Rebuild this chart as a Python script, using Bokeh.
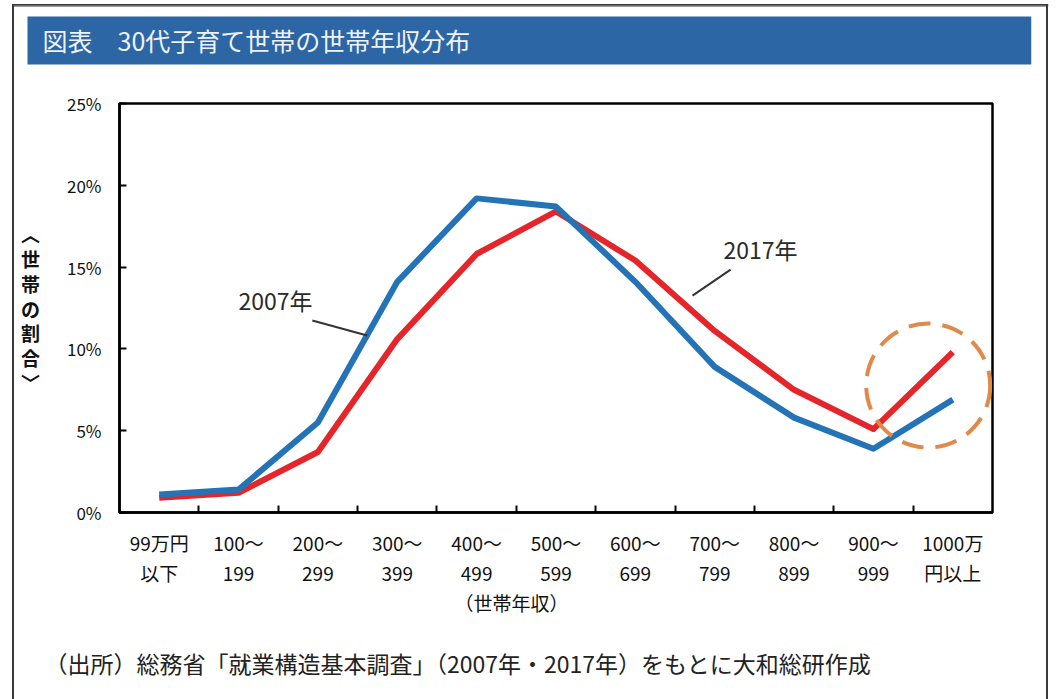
from bokeh.plotting import figure
from bokeh.models import Range1d, FixedTicker, PrintfTickFormatter, Label, Title
from bokeh.embed import file_html
from bokeh.resources import INLINE

# Household income bands (10,000 yen) and share of households (%)
income_bands = ["99万円\n以下", "100～\n199", "200～\n299", "300～\n399", "400～\n499",
                "500～\n599", "600～\n699", "700～\n799", "800～\n899", "900～\n999",
                "1000万\n円以上"]
share_2007 = [1.1, 1.4, 5.5, 14.1, 19.2, 18.7, 14.1, 8.9, 5.8, 3.9, 6.9]
share_2017 = [0.9, 1.2, 3.7, 10.6, 15.8, 18.4, 15.4, 11.1, 7.5, 5.1, 9.8]
y_ticks = [0, 5, 10, 15, 20, 25]

title_text = "図表　30代子育て世帯の世帯年収分布"
x_title = "（世帯年収）"
y_title = "︿\n世\n帯\nの\n割\n合\n﹀"
source_text = "（出所）総務省「就業構造基本調査」（2007年・2017年）をもとに大和総研作成"

JP = "Noto Sans CJK JP"
BLUE = "#2473b7"
RED = "#e4262b"
ORANGE = "#e08a4a"
HEADER = "#2c66a5"
EDGE = "#3a3a3a"

W, H = 1059, 699
FL, FT, FR, FB = 119, 103, 992, 512  # plot frame edges on the canvas

x_idx = list(range(len(income_bands)))

p = figure(width=W, height=H, x_range=Range1d(-0.5, len(income_bands) - 0.5),
           y_range=Range1d(0, 25), output_backend="svg", toolbar_location=None,
           min_border_left=FL, min_border_right=W - FR, min_border_top=FT,
           min_border_bottom=H - FB)
p.background_fill_color = "white"
p.border_fill_color = None
p.outline_line_color = "black"
p.outline_line_width = 2.5
p.grid.visible = False

# thin page frame at the left and right edges, painted behind the canvas
edge = f"linear-gradient({EDGE}, {EDGE})"
p.styles = {
    "background-color": "white",
    "background-image": f"{edge}, {edge}",
    "background-position": "12px 4px, 1046px 4px",
    "background-size": "2px 700px, 2px 700px",
    "background-repeat": "no-repeat",
}

# x axis: labels at band centres, small inward ticks at band boundaries
xa = p.xaxis[0]
xa.ticker = FixedTicker(ticks=x_idx, minor_ticks=[i + 0.5 for i in x_idx[:-1]])
xa.major_label_overrides = {i: lab for i, lab in enumerate(income_bands)}
xa.major_tick_line_color = None
xa.minor_tick_in = 7
xa.minor_tick_out = 0
xa.minor_tick_line_color = "black"
xa.minor_tick_line_width = 2
xa.axis_line_color = "black"
xa.axis_line_width = 2.5
xa.major_label_text_font = JP
xa.major_label_text_font_size = "19px"
xa.major_label_text_color = "#111111"
xa.major_label_text_line_height = 1.127
xa.major_label_standoff = 10

# y axis: percentage ticks pointing into the frame, stacked upright title
ya = p.yaxis[0]
ya.ticker = FixedTicker(ticks=y_ticks, minor_ticks=[])
ya.formatter = PrintfTickFormatter(format="%d%%")
ya.major_tick_in = 7
ya.major_tick_out = 0
ya.major_tick_line_width = 2
ya.major_tick_line_color = "black"
ya.axis_line_color = "black"
ya.axis_line_width = 2.5
ya.major_label_text_font = JP
ya.major_label_text_font_size = "17px"
ya.major_label_text_color = "#111111"
ya.major_label_standoff = 18
ya.axis_label = y_title
ya.axis_label_orientation = "horizontal"
ya.axis_label_text_font = JP
ya.axis_label_text_font_size = "19px"
ya.axis_label_text_font_style = "bold"
ya.axis_label_text_color = "#111111"
ya.axis_label_text_line_height = 0.92
ya.axis_label_standoff = 24

# --- top: spacing, header bar, frame line (listed from the plot outwards) ---
p.add_layout(Title(text=" ", text_font=JP, text_font_size="10px", standoff=10.5), "above")
p.add_layout(Title(text=title_text, align="left", vertical_align="top",
                   offset=27 - FL, standoff=18, text_font=JP, text_font_size="25px",
                   text_font_style="normal", text_color="#eef3f9",
                   background_fill_color=HEADER, border_line_color=None,
                   padding=dict(left=15, right=561, top=5, bottom=7)), "above")
p.add_layout(Title(text=" ", text_font=JP, text_font_size="1px", standoff=0,
                   align="left", vertical_align="top", offset=13 - FL,
                   border_line_color=EDGE, border_line_width=1.2,
                   padding=dict(left=0, right=1034, top=0, bottom=0)), "above")

# --- bottom: x axis title and source note ---
p.add_layout(Title(text=x_title, align="left", vertical_align="top",
                   offset=454 - FL, standoff=0, text_font=JP, text_font_size="19px",
                   text_font_style="normal", text_color="#111111"), "below")
p.add_layout(Title(text=source_text, align="left", vertical_align="top",
                   offset=44 - FL, standoff=0, text_font=JP, text_font_size="23px",
                   text_font_style="normal", text_color="#222222",
                   padding=dict(left=0, right=0, top=28, bottom=0)), "below")

# series
p.line(x_idx, share_2017, line_color=RED, line_width=6, line_join="round")
p.line(x_idx, share_2007, line_color=BLUE, line_width=6, line_join="round")

# callouts
p.segment(x0=[1.93, 7.20], y0=[11.74, 14.85], x1=[2.62, 6.72], y1=[10.82, 13.26],
          line_color="#333333", line_width=2)
p.add_layout(Label(x=1.0, y=13.0, text="2007年", text_font=JP, text_font_size="23px",
                   text_color="#2a2a2a", text_baseline="middle"))
p.add_layout(Label(x=7.11, y=16.08, text="2017年", text_font=JP, text_font_size="23px",
                   text_color="#2a2a2a", text_baseline="middle"))

# highlight of the top income band
p.circle(x=[9.69], y=[7.76], radius=62, radius_units="screen", fill_color=None,
         line_color=ORANGE, line_width=4, line_dash="22 12")

open("out.html", "w").write(file_html(p, INLINE))
